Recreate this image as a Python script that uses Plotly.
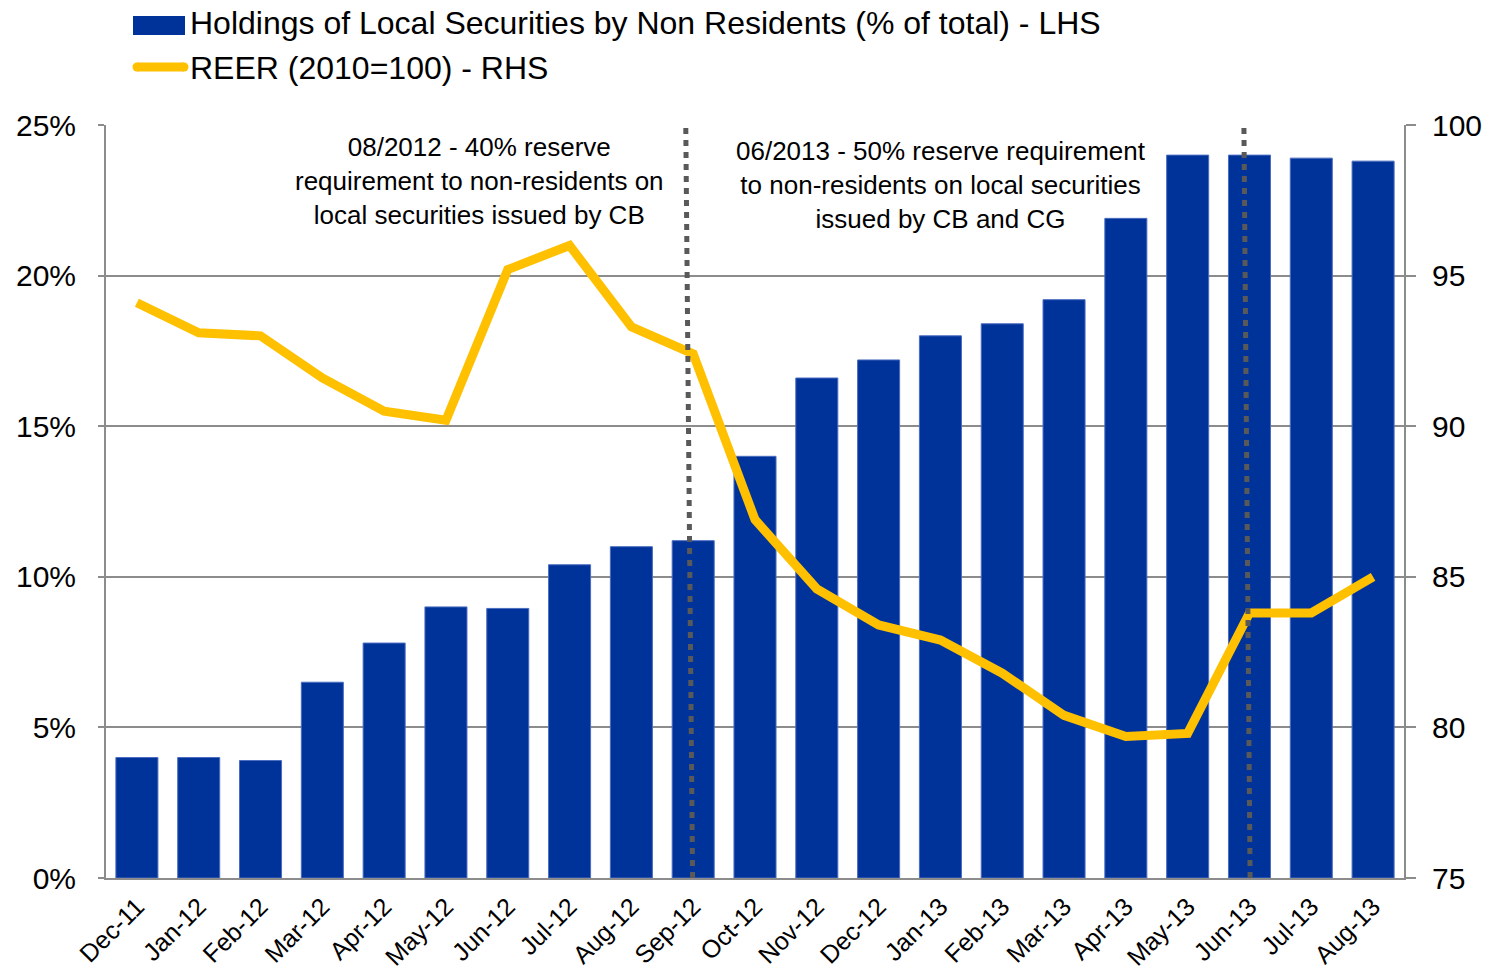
import plotly.graph_objects as go

# Monthly observations
months = ["Dec-11", "Jan-12", "Feb-12", "Mar-12", "Apr-12", "May-12", "Jun-12",
          "Jul-12", "Aug-12", "Sep-12", "Oct-12", "Nov-12", "Dec-12", "Jan-13",
          "Feb-13", "Mar-13", "Apr-13", "May-13", "Jun-13", "Jul-13", "Aug-13"]

# Share of local securities held by non-residents (fraction of total)
holdings_share = [0.040, 0.040, 0.039, 0.065, 0.078, 0.090, 0.0895, 0.104, 0.110,
                  0.112, 0.140, 0.166, 0.172, 0.180, 0.184, 0.192, 0.219, 0.240,
                  0.240, 0.239, 0.238]

# Real effective exchange rate index (2010=100)
reer = [94.1, 93.1, 93.0, 91.6, 90.5, 90.2, 95.2, 96.0, 93.3, 92.4, 86.9, 84.6,
        83.4, 82.9, 81.8, 80.4, 79.7, 79.8, 83.8, 83.8, 85.0]

# Policy events marked by dotted verticals (category position, top offset, bottom offset)
events = [("Sep-12", -0.12, -0.01), ("Jun-13", -0.09, 0.01)]
event_notes = [
    "08/2012 - 40% reserve<br>requirement to non-residents on<br>local securities issued by CB",
    "06/2013 - 50% reserve requirement<br>to non-residents on local securities<br>issued by CB and CG",
]

legend_labels = ["Holdings of Local Securities by Non Residents (% of total) - LHS",
                 "REER (2010=100) - RHS"]

BAR_COLOR = "#003399"
LINE_COLOR = "#FFC000"
GRID = "#8c8c8c"
FONT = "Liberation Sans, Arial, sans-serif"

W, H = 1493, 973
ML, MR, MT, MB = 106, 89, 125, 95
PW, PH = W - ML - MR, H - MT - MB


def px_to_paper(x, y):
    return (x - ML) / PW, (H - MB - y) / PH


fig = go.Figure()

fig.add_trace(go.Bar(
    x=months, y=holdings_share, name=legend_labels[0],
    marker=dict(color=BAR_COLOR, line=dict(color="#4b6cc0", width=1)),
    yaxis="y", showlegend=False,
))

fig.add_trace(go.Scatter(
    x=months, y=reer, name=legend_labels[1], mode="lines",
    line=dict(color=LINE_COLOR, width=9),
    yaxis="y2", showlegend=False,
))

shapes = []
for label, top_off, bot_off in events:
    idx = months.index(label)
    shapes.append(dict(
        type="line", xref="x", yref="paper",
        x0=idx + bot_off, y0=0, x1=idx + top_off, y1=1,
        line=dict(color="#595959", width=5, dash="6px,6px"),
        layer="above",
    ))

# Legend keys
kx0, ky0 = px_to_paper(133, 35)
kx1, ky1 = px_to_paper(185, 16)
shapes.append(dict(type="rect", xref="paper", yref="paper",
                   x0=kx0, y0=ky0, x1=kx1, y1=ky1,
                   fillcolor=BAR_COLOR, line=dict(width=0)))
lx0, ly = px_to_paper(137, 67)
lx1, _ = px_to_paper(184, 67)
shapes.append(dict(type="line", xref="paper", yref="paper",
                   x0=lx0, y0=ly, x1=lx1, y1=ly,
                   line=dict(color=LINE_COLOR, width=9)))
for cx in (137, 184):
    ex0, ey0 = px_to_paper(cx - 4.5, 71.5)
    ex1, ey1 = px_to_paper(cx + 4.5, 62.5)
    shapes.append(dict(type="circle", xref="paper", yref="paper",
                       x0=ex0, y0=ey0, x1=ex1, y1=ey1,
                       fillcolor=LINE_COLOR, line=dict(width=0)))

annotations = []
for text, ypx in zip(legend_labels, (23, 68)):
    ax, ay = px_to_paper(188, ypx)
    annotations.append(dict(
        xref="paper", yref="paper", x=ax, y=ay, text=text, showarrow=False,
        xanchor="left", yanchor="middle",
        font=dict(family=FONT, size=32, color="#000000"),
    ))

for text, (cx, cy) in zip(event_notes, [(479, 181), (941, 185)]):
    ax, ay = px_to_paper(cx, cy)
    annotations.append(dict(
        xref="paper", yref="paper", x=ax, y=ay, text=text, showarrow=False,
        xanchor="center", yanchor="middle", align="center",
        font=dict(family=FONT, size=26, color="#000000"),
    ))

fig.update_layout(
    width=W, height=H,
    margin=dict(l=ML, r=MR, t=MT, b=MB, pad=0),
    paper_bgcolor="white", plot_bgcolor="white",
    font=dict(family=FONT, color="#000000"),
    bargap=0.32,
    showlegend=False,
    shapes=shapes,
    annotations=annotations,
    xaxis=dict(
        type="category", range=[-0.5, len(months) - 0.5], automargin=False,
        tickangle=-45, tickfont=dict(size=25),
        showgrid=False, showline=True, linecolor=GRID, linewidth=2,
        ticks="", ticklabelstandoff=2, mirror=False,
    ),
    yaxis=dict(
        range=[0, 0.25], dtick=0.05, tickformat=".0%", automargin=False,
        tickfont=dict(size=30), showgrid=True, gridcolor=GRID, gridwidth=1.5,
        showline=True, linecolor=GRID, linewidth=2,
        ticks="outside", ticklen=6, tickcolor=GRID, tickwidth=1.5,
        ticklabelstandoff=16, zeroline=False,
    ),
    yaxis2=dict(
        range=[75, 100], dtick=5, overlaying="y", side="right", automargin=False,
        tickfont=dict(size=30), showgrid=False,
        showline=True, linecolor=GRID, linewidth=2,
        ticks="outside", ticklen=10, tickcolor=GRID, tickwidth=1.5,
        ticklabelstandoff=10, zeroline=False,
    ),
)

fig.write_html("out.html")
